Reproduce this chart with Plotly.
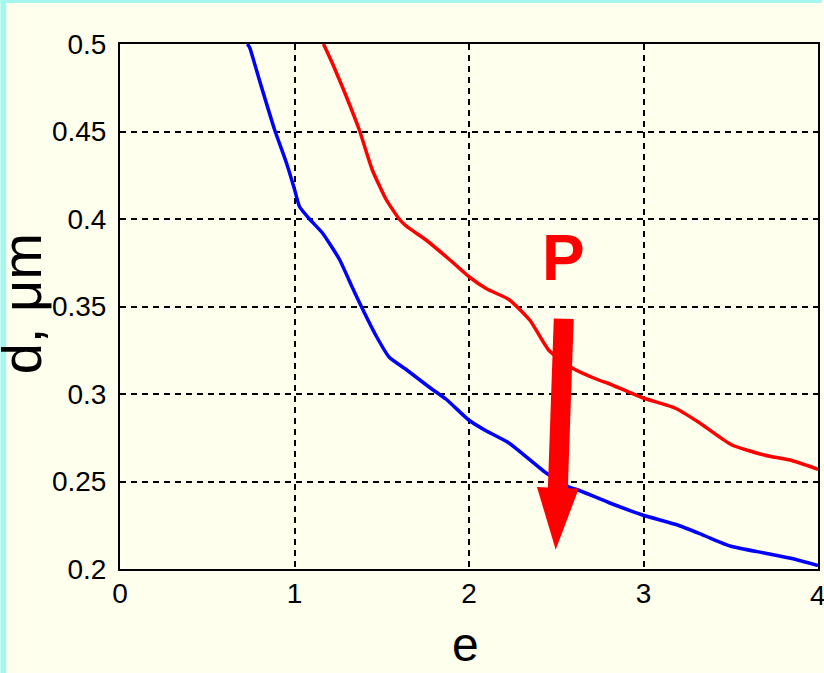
import plotly.graph_objects as go

# Curve 1 (blue): d versus e
e_blue = [0.73, 0.743, 0.80, 0.886, 0.954, 1.0, 1.029, 1.086, 1.16, 1.257, 1.331, 1.383,
          1.469, 1.543, 1.64, 1.771, 1.869, 2.0, 2.097, 2.229, 2.44, 2.57, 2.63, 2.8,
          2.99, 3.2, 3.35, 3.5, 3.7, 3.85, 4.0]
d_blue = [0.5, 0.498, 0.479, 0.451, 0.432, 0.417, 0.407, 0.400, 0.392, 0.377, 0.361, 0.350,
          0.333, 0.321, 0.314, 0.304, 0.297, 0.285, 0.279, 0.272, 0.255, 0.247, 0.245, 0.238,
          0.231, 0.225, 0.219, 0.213, 0.209, 0.206, 0.202]

# Curve 2 (red): d versus e
e_red = [1.166, 1.217, 1.297, 1.371, 1.446, 1.526, 1.6, 1.64, 1.754, 1.886, 2.0, 2.103,
         2.229, 2.35, 2.457, 2.589, 2.743, 2.8, 2.99, 3.18, 3.314, 3.503, 3.697, 3.85, 4.0]
d_red = [0.5, 0.489, 0.470, 0.451, 0.428, 0.411, 0.400, 0.396, 0.388, 0.377, 0.367, 0.360,
         0.354, 0.342, 0.325, 0.315, 0.308, 0.306, 0.298, 0.292, 0.284, 0.271, 0.265, 0.262, 0.257]

x_ticks = [0, 1, 2, 3, 4]
y_ticks = [0.2, 0.25, 0.3, 0.35, 0.4, 0.45, 0.5]

X_RANGE = [0, 4]
Y_RANGE = [0.2, 0.5]

# Figure geometry
W, H = 824, 673
ML, MR, MT, MB = 120, 4, 44, 104
PW, PH = W - ML - MR, H - MT - MB

# Arrow "P": tail and tip in data coordinates
ARROW_TAIL = (2.543, 0.343)
ARROW_TIP = (2.497, 0.211)
P_LABEL = (2.543, 0.3777)

BG = "#FFFFEE"
FRAME = "#A6F6F0"
FONT = "Liberation Sans, Arial, sans-serif"
TICK_SIZE = 28


def to_px(x, y):
    px = ML + (x - X_RANGE[0]) / (X_RANGE[1] - X_RANGE[0]) * PW
    py = MT + PH - (y - Y_RANGE[0]) / (Y_RANGE[1] - Y_RANGE[0]) * PH
    return px, py


def to_data(px, py):
    x = X_RANGE[0] + (px - ML) / PW * (X_RANGE[1] - X_RANGE[0])
    y = Y_RANGE[0] + (MT + PH - py) / PH * (Y_RANGE[1] - Y_RANGE[0])
    return x, y


def arrow_path(tail, tip, half_shaft=10, half_head=21, head_len=62):
    tx, ty = to_px(*tail)
    hx, hy = to_px(*tip)
    dx, dy = hx - tx, hy - ty
    L = (dx * dx + dy * dy) ** 0.5
    ux, uy = dx / L, dy / L
    nx, ny = uy, -ux
    bx, by = hx - ux * head_len, hy - uy * head_len
    pts = [
        (tx + nx * half_shaft, ty + ny * half_shaft),
        (bx + nx * half_shaft, by + ny * half_shaft),
        (bx + nx * half_head, by + ny * half_head),
        (hx, hy),
        (bx - nx * half_head, by - ny * half_head),
        (bx - nx * half_shaft, by - ny * half_shaft),
        (tx - nx * half_shaft, ty - ny * half_shaft),
    ]
    pts = [to_data(*p) for p in pts]
    return "M " + " L ".join(f"{x:.5f},{y:.5f}" for x, y in pts) + " Z"


fig = go.Figure()
fig.add_trace(go.Scatter(x=e_blue, y=d_blue, mode="lines",
                         line=dict(color="#0000FF", width=3.5, shape="spline", smoothing=0.5),
                         showlegend=False))
fig.add_trace(go.Scatter(x=e_red, y=d_red, mode="lines",
                         line=dict(color="#FF0000", width=3.5, shape="spline", smoothing=0.5),
                         showlegend=False))

axis_common = dict(
    showline=True, linecolor="black", linewidth=2, mirror=True,
    showgrid=True, gridcolor="black", gridwidth=2, griddash="6px,5px",
    zeroline=False, ticks="",
    tickfont=dict(family=FONT, size=TICK_SIZE, color="black"),
)

# The last x label sits on the figure edge; the axis hides it, so it is drawn
# as an annotation that is allowed to run past the edge.
fig.update_xaxes(range=X_RANGE, tickvals=x_ticks, ticktext=[str(v) for v in x_ticks],
                 ticklabelstandoff=-2, **axis_common)
fig.update_yaxes(range=Y_RANGE, tickvals=y_ticks,
                 ticktext=[f"{v:g}" for v in y_ticks],
                 ticklabelstandoff=6, **axis_common)
fig.add_annotation(x=x_ticks[-1], y=0, xref="x", yref="paper", text=str(x_ticks[-1]),
                   showarrow=False, xanchor="center", yanchor="top", yshift=-9,
                   font=dict(family=FONT, size=TICK_SIZE, color="black"))

# Cyan frame strips along the left and top edges
x_left = -ML / PW
y_bot = -MB / PH
y_top = (PH + MT) / PH
fig.add_shape(type="rect", xref="paper", yref="paper", layer="below",
              x0=x_left, x1=(6 - ML) / PW, y0=y_bot, y1=y_top,
              fillcolor=FRAME, line=dict(width=0))
fig.add_shape(type="rect", xref="paper", yref="paper", layer="below",
              x0=x_left, x1=(W - ML) / PW, y0=(PH + MT - 3) / PH, y1=y_top,
              fillcolor=FRAME, line=dict(width=0))

# Red arrow
fig.add_shape(type="path", xref="x", yref="y", path=arrow_path(ARROW_TAIL, ARROW_TIP),
              fillcolor="#FF0000", line=dict(width=0), layer="above")

fig.add_annotation(x=P_LABEL[0], y=P_LABEL[1], xref="x", yref="y", text="<b>P</b>",
                   showarrow=False, xanchor="center", yanchor="middle",
                   font=dict(family=FONT, size=64, color="#FF0000"))

# Axis titles
fig.add_annotation(x=(21 - ML) / PW, y=(PH + MT - 304) / PH, xref="paper", yref="paper",
                   text="d, μm", textangle=-90, showarrow=False,
                   xanchor="center", yanchor="middle",
                   font=dict(family=FONT, size=56, color="black"))
fig.add_annotation(x=(466 - ML) / PW, y=(PH + MT - 644) / PH, xref="paper", yref="paper",
                   text="e", showarrow=False, xanchor="center", yanchor="middle",
                   font=dict(family=FONT, size=48, color="black"))

fig.update_layout(
    width=W, height=H,
    margin=dict(l=ML, r=MR, t=MT, b=MB),
    paper_bgcolor=BG, plot_bgcolor=BG,
    showlegend=False,
)

fig.write_html("out.html")
